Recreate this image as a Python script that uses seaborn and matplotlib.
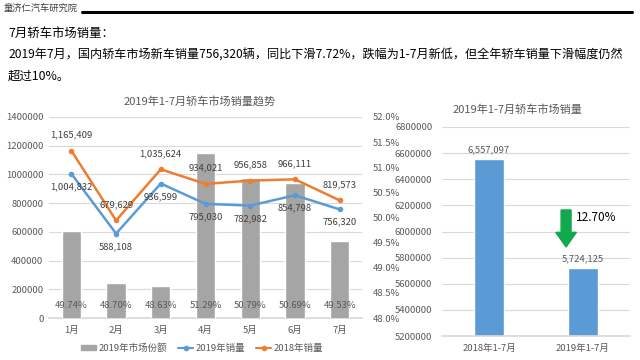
import numpy as np
import pandas as pd
import matplotlib
matplotlib.use("Agg")
import matplotlib.pyplot as plt
from matplotlib.patches import FancyArrow
from matplotlib.lines import Line2D
from matplotlib.patches import Patch
import seaborn as sns

sns.set_theme(style="white")
plt.rcParams['font.family'] = ['Noto Sans CJK SC', 'DejaVu Sans']

# ---- data ----
months = ["1月", "2月", "3月", "4月", "5月", "6月", "7月"]
share_2019 = [49.74, 48.70, 48.63, 51.29, 50.79, 50.69, 49.53]
sales_2019 = [1004832, 588108, 936599, 795030, 782982, 854798, 756320]
sales_2018 = [1165409, 679629, 1035624, 934021, 956858, 966111, 819573]
total_labels = ["2018年1-7月", "2019年1-7月"]
total_sales = [6557097, 5724125]
decline_text = "12.70%"

GRAY = "#a5a5a5"
BLUE = "#5b9bd5"
ORANGE = "#ed7d31"
TXT = "#595959"
GRID = "#d9d9d9"

fig = plt.figure(figsize=(6.4, 3.6), dpi=100)
fig.patch.set_facecolor("white")

# ---- header ----
fig.text(4/640, 1-8/360, "童济仁汽车研究院", fontsize=6.7, style="italic",
         color="#404040", va="center", ha="left")
fig.add_artist(Line2D([82/640, 632/640], [1-12/360, 1-12/360], color="black", lw=2.2))
fig.text(8/640, 1-33/360, "7月轿车市场销量：", fontsize=8.9, color="black", va="center")
fig.text(8/640, 1-55/360,
         "2019年7月，国内轿车市场新车销量756,320辆，同比下滑7.72%，跌幅为1-7月新低，但全年轿车销量下滑幅度仍然",
         fontsize=8.7, color="black", va="center")
fig.text(8/640, 1-76/360, "超过10%。", fontsize=8.9, color="black", va="center")

# ---- left chart ----
rect = [49/640, 1-318/360, 313/640, 201/360]
ax = fig.add_axes(rect)           # grid + left ticks
ax2 = ax.twinx()                  # bars (right axis)
ax3 = ax.twinx()                  # lines (left scale)

x = np.arange(len(months))
ax.set_ylim(0, 1400000)
ax.set_yticks(np.arange(0, 1400001, 200000))
ax.set_yticklabels([f"{int(v)}" for v in np.arange(0, 1400001, 200000)], fontsize=6.8, color=TXT)
ax.yaxis.grid(True, color=GRID, lw=0.8)
ax.set_xlim(-0.5, 6.5)
ax.set_xticks(x)
ax.set_xticklabels(months, fontsize=6.8, color=TXT)
ax.tick_params(axis="both", length=0, pad=6)
ax.tick_params(axis="y", pad=4)
for s in ["top", "right", "left"]:
    ax.spines[s].set_visible(False)
ax.spines["bottom"].set_color(GRID)

df_share = pd.DataFrame({"month": months, "share": share_2019})
sns.barplot(data=df_share, x="month", y="share", ax=ax2, color=GRAY, width=0.43,
            saturation=1, order=months)
ax2.set_ylim(48, 52)
yt = np.arange(48, 52.01, 0.5)
ax2.set_yticks(yt)
ax2.set_yticklabels([f"{v:.1f}%" for v in yt], fontsize=6.8, color=TXT)
ax2.set_xlim(-0.5, 6.5)
ax2.set_xlabel("")
ax2.set_ylabel("")
ax2.tick_params(axis="y", length=0, pad=8)
for s in ax2.spines.values():
    s.set_visible(False)
for i, v in enumerate(share_2019):
    ax2.text(i, 48.25, f"{v:.2f}%", ha="center", va="center", fontsize=6.8, color=TXT)

sns.lineplot(x=x, y=sales_2019, ax=ax3, color=BLUE, marker="o", markersize=4,
             markeredgewidth=0, lw=1.8)
sns.lineplot(x=x, y=sales_2018, ax=ax3, color=ORANGE, marker="o", markersize=4,
             markeredgewidth=0, lw=1.8)
ax3.set_ylim(0, 1400000)
ax3.set_xlim(-0.5, 6.5)
ax3.set_yticks([])
ax3.set_ylabel("")
for s in ax3.spines.values():
    s.set_visible(False)
for i in range(len(months)):
    ax3.annotate(f"{sales_2018[i]:,}", (i, sales_2018[i]), xytext=(0, 8),
                 textcoords="offset points", ha="center", va="bottom",
                 fontsize=6.8, color="#404040")
    ax3.annotate(f"{sales_2019[i]:,}", (i, sales_2019[i]), xytext=(0, -6),
                 textcoords="offset points", ha="center", va="top",
                 fontsize=6.8, color="#404040")

fig.text(200/640, 1-101/360, "2019年1-7月轿车市场销量趋势", fontsize=8, color=TXT,
         ha="center", va="center")

# legend
handles = [Patch(facecolor=GRAY, edgecolor=GRAY),
           Line2D([0], [0], color=BLUE, marker="o", markersize=3, lw=1.5),
           Line2D([0], [0], color=ORANGE, marker="o", markersize=3, lw=1.5)]
fig.legend(handles, ["2019年市场份额", "2019年销量", "2018年销量"],
           loc="center", bbox_to_anchor=(202/640, 1-348/360), ncol=3, frameon=False,
           fontsize=6.8, labelcolor=TXT, handlelength=1.6, handleheight=0.6,
           columnspacing=1.2, handletextpad=0.2)

# ---- right chart ----
axr = fig.add_axes([442/640, 1-336/360, 188/640, 209/360])
df_tot = pd.DataFrame({"period": total_labels, "sales": total_sales})
sns.barplot(data=df_tot, x="period", y="sales", ax=axr, color=BLUE, width=0.32,
            saturation=1, order=total_labels, zorder=2)
axr.set_ylim(5200000, 6800000)
yr = np.arange(5200000, 6800001, 200000)
axr.set_yticks(yr)
axr.set_yticklabels([f"{int(v)}" for v in yr], fontsize=6.8, color=TXT)
axr.yaxis.grid(True, color=GRID, lw=0.8, zorder=0)
axr.set_axisbelow(True)
axr.set_xlim(-0.5, 1.5)
axr.set_xlabel("")
axr.set_ylabel("")
axr.tick_params(axis="both", length=0)
axr.tick_params(axis="x", pad=6, labelsize=6.8, labelcolor=TXT)
axr.tick_params(axis="y", pad=7)
for s in ["top", "right", "left"]:
    axr.spines[s].set_visible(False)
axr.spines["bottom"].set_color(GRID)
for i, v in enumerate(total_sales):
    axr.annotate(f"{v:,}", (i, v), xytext=(0, 3), textcoords="offset points",
                 ha="center", va="bottom", fontsize=6.8, color=TXT)
axr.add_patch(FancyArrow(0.66, 0.603, 0, -0.177, width=0.053, head_width=0.11,
                         head_length=0.07, length_includes_head=True,
                         transform=axr.transAxes, color="#12a84c", zorder=5))
axr.text(0.71, 0.565, decline_text, transform=axr.transAxes, fontsize=8.5,
         color="black", ha="left", va="center")
fig.text(517/640, 1-110/360, "2019年1-7月轿车市场销量", fontsize=8, color=TXT,
         ha="center", va="center")

fig.savefig("out.png", dpi=100, facecolor="white")
